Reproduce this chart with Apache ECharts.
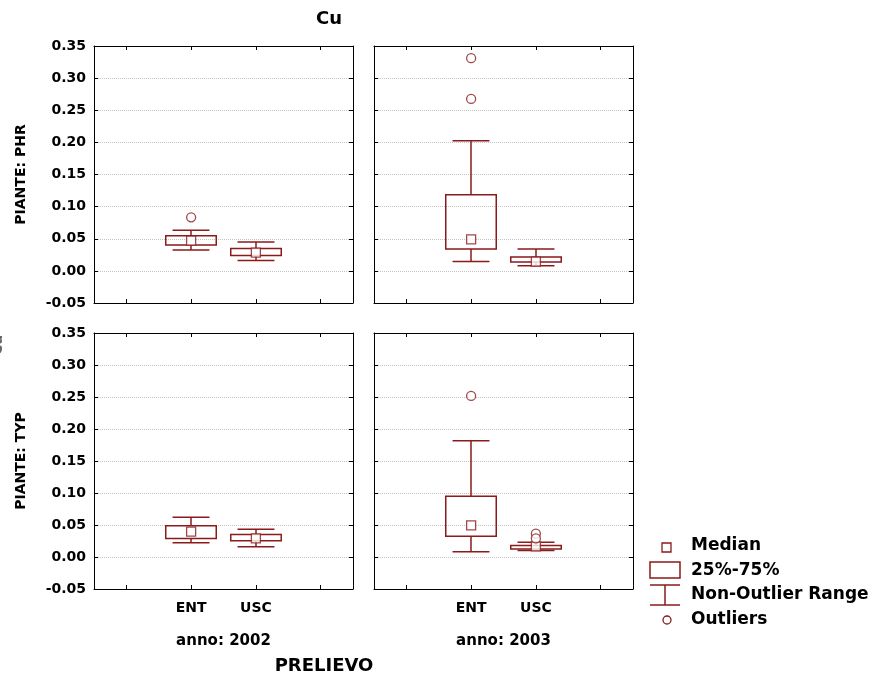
<!DOCTYPE html>
<html><head><meta charset="utf-8">
<script src="https://cdn.jsdelivr.net/npm/echarts@6/dist/echarts.min.js"></script>
<style>html,body{margin:0;padding:0;background:#fff}#c{width:882px;height:680px}</style>
</head><body><div id="c"></div>
<script>
// x categories (blank padding slots on either side, as in the original layout)
const categories = ['', 'ENT', 'USC', ' '];
const groupIndex = { ENT: 1, USC: 2 };
// box stats: [non-outlier min, Q1 (25%), median, Q3 (75%), non-outlier max]
const phr2002 = { ENT: [0.0326, 0.0404, 0.0470, 0.0548, 0.0632], USC: [0.0160, 0.0238, 0.0284, 0.0347, 0.0450] };
const phr2003 = { ENT: [0.0145, 0.0340, 0.0490, 0.1185, 0.2024], USC: [0.0078, 0.0140, 0.0145, 0.0217, 0.0340] };
const typ2002 = { ENT: [0.0224, 0.0290, 0.0397, 0.0490, 0.0620], USC: [0.0160, 0.0255, 0.0290, 0.0350, 0.0433] };
const typ2003 = { ENT: [0.0083, 0.0323, 0.0495, 0.0950, 0.1818], USC: [0.0103, 0.0125, 0.0166, 0.0180, 0.0229] };
// outliers: [group, value]
const phr2002Out = [['ENT', 0.0834]];
const phr2003Out = [['ENT', 0.3310], ['ENT', 0.2676]];
const typ2002Out = [];
const typ2003Out = [['ENT', 0.2517], ['USC', 0.0365], ['USC', 0.0290]];
const yMin = -0.05, yMax = 0.35, yStep = 0.05;
const yearLabels = ['anno: 2002', 'anno: 2003'];
const rowLabels = ['PIANTE: PHR', 'PIANTE: TYP'];

const RED = '#8b1a1a';
const FONT = '"DejaVu Sans", Verdana, sans-serif';

const panels = [
  { stats: phr2002, out: phr2002Out, row: 0, col: 0 },
  { stats: phr2003, out: phr2003Out, row: 0, col: 1 },
  { stats: typ2002, out: typ2002Out, row: 1, col: 0 },
  { stats: typ2003, out: typ2003Out, row: 1, col: 1 }
];
const gridPos = {
  left: [94, 374], top: [46, 333], width: 259, height: [257, 256]
};

const grids = [], xAxes = [], yAxes = [], series = [];
panels.forEach((p, i) => {
  grids.push({ left: gridPos.left[p.col], top: gridPos.top[p.row], width: gridPos.width, height: gridPos.height[p.row], containLabel: false });
  const isBottom = p.row === 1, isLeft = p.col === 0;
  const axLine = { show: true, onZero: false, lineStyle: { color: '#000', width: 1 } };
  const tick = { show: true, inside: true, length: 4, alignWithLabel: true, interval: 0, lineStyle: { color: '#000' } };
  xAxes.push({
    type: 'category', gridIndex: i, position: 'bottom', data: categories, boundaryGap: true,
    axisLine: axLine, axisTick: tick,
    axisLabel: { show: isBottom, interval: 0, color: '#000', fontFamily: FONT, fontWeight: 'bold', fontSize: 14, margin: 12 },
    name: isBottom ? yearLabels[p.col] : '', nameLocation: 'middle', nameGap: 45,
    nameTextStyle: { color: '#000', fontFamily: FONT, fontWeight: 'bold', fontSize: 15 },
    splitLine: { show: false }
  });
  xAxes.push({
    type: 'category', gridIndex: i, position: 'top', data: categories, boundaryGap: true,
    axisLine: axLine, axisTick: tick, axisLabel: { show: false }, splitLine: { show: false }
  });
  const ytick = { show: true, inside: true, length: 4, lineStyle: { color: '#000' } };
  yAxes.push({
    type: 'value', gridIndex: i, position: 'left', min: yMin, max: yMax, interval: yStep,
    axisLine: axLine, axisTick: ytick,
    axisLabel: { show: isLeft, formatter: v => v.toFixed(2), color: '#000', fontFamily: FONT, fontWeight: 'bold', fontSize: 14, margin: 8 },
    splitLine: { show: true, lineStyle: { type: 'dotted', color: '#c4c4c4', width: 1 } },
    name: isLeft ? rowLabels[p.row] : '', nameLocation: 'middle', nameGap: 66, nameRotate: 90,
    nameTextStyle: { color: '#000', fontFamily: FONT, fontWeight: 'bold', fontSize: 14 }
  });
  yAxes.push({
    type: 'value', gridIndex: i, position: 'right', min: yMin, max: yMax, interval: yStep,
    axisLine: axLine, axisTick: ytick, axisLabel: { show: false }, splitLine: { show: false }
  });
  const boxData = Object.keys(p.stats).map(g => [groupIndex[g]].concat(p.stats[g]));
  series.push({
    type: 'custom', xAxisIndex: 2 * i, yAxisIndex: 2 * i, z: 3,
    encode: { x: 0, y: [1, 2, 3, 4, 5] },
    data: boxData,
    renderItem: function (params, api) {
      const x = api.value(0);
      const lo = api.coord([x, api.value(1)]);
      const q1 = api.coord([x, api.value(2)]);
      const q3 = api.coord([x, api.value(4)]);
      const hi = api.coord([x, api.value(5)]);
      const bw = api.size([1, 0])[0];
      const boxW = bw * 0.78, capW = bw * 0.57;
      const cx = Math.round(lo[0]);
      const st = { stroke: RED, lineWidth: 1.5, fill: null };
      return {
        type: 'group', children: [
          { type: 'line', shape: { x1: cx, y1: hi[1], x2: cx, y2: q3[1] }, style: st },
          { type: 'line', shape: { x1: cx, y1: q1[1], x2: cx, y2: lo[1] }, style: st },
          { type: 'line', shape: { x1: cx - capW / 2, y1: hi[1], x2: cx + capW / 2, y2: hi[1] }, style: st },
          { type: 'line', shape: { x1: cx - capW / 2, y1: lo[1], x2: cx + capW / 2, y2: lo[1] }, style: st },
          { type: 'rect', shape: { x: cx - boxW / 2, y: q3[1], width: boxW, height: q1[1] - q3[1] }, style: { stroke: RED, lineWidth: 1.5, fill: 'rgba(255,255,255,0)' } }
        ]
      };
    }
  });
  series.push({
    type: 'scatter', xAxisIndex: 2 * i, yAxisIndex: 2 * i, z: 4,
    symbol: 'rect', symbolSize: 9,
    itemStyle: { color: '#fff', borderColor: RED, borderWidth: 1.3 },
    data: Object.keys(p.stats).map(g => [groupIndex[g], p.stats[g][2]])
  });
  series.push({
    type: 'scatter', xAxisIndex: 2 * i, yAxisIndex: 2 * i, z: 4,
    symbol: 'circle', symbolSize: 9,
    itemStyle: { color: '#fff', borderColor: RED, borderWidth: 1.3 },
    data: p.out.map(o => [groupIndex[o[0]], o[1]])
  });
});

const txt = (x, y, text, size, extra) => Object.assign({
  type: 'text', x: x, y: y,
  style: { text: text, fill: '#000', font: 'bold ' + size + 'px ' + FONT, textAlign: 'left', textVerticalAlign: 'middle' }
}, extra || {});
const lst = { stroke: RED, lineWidth: 1.5, fill: null };
const graphic = [
  { type: 'text', left: 316, top: 10, style: { text: 'Cu', fill: '#000', font: 'bold 18px ' + FONT } },
  { type: 'text', x: 324, y: 666, style: { text: 'PRELIEVO', fill: '#000', font: 'bold 18px ' + FONT, textAlign: 'center', textVerticalAlign: 'middle' } },
  { type: 'text', x: -2, y: 345, rotation: Math.PI / 2, style: { text: 'Cu', fill: '#666', font: 'bold 14px ' + FONT, textAlign: 'center', textVerticalAlign: 'middle' } },
  // legend
  { type: 'rect', shape: { x: 662, y: 543, width: 9, height: 9 }, style: { stroke: RED, lineWidth: 1.3, fill: '#fff' } },
  { type: 'rect', shape: { x: 650, y: 562, width: 30, height: 16 }, style: { stroke: RED, lineWidth: 1.5, fill: '#fff' } },
  { type: 'line', shape: { x1: 650, y1: 585, x2: 680, y2: 585 }, style: lst },
  { type: 'line', shape: { x1: 650, y1: 605, x2: 680, y2: 605 }, style: lst },
  { type: 'line', shape: { x1: 665, y1: 585, x2: 665, y2: 605 }, style: lst },
  { type: 'circle', shape: { cx: 667, cy: 620, r: 4 }, style: { stroke: RED, lineWidth: 1.3, fill: '#fff' } },
  txt(691, 546, 'Median', 17),
  txt(691, 571, '25%-75%', 17),
  txt(691, 595, 'Non-Outlier Range', 17),
  txt(691, 620, 'Outliers', 17)
];

const chart = echarts.init(document.getElementById('c'), null, { renderer: 'canvas' });
chart.setOption({
  animation: false,
  backgroundColor: '#fff',
  grid: grids, xAxis: xAxes, yAxis: yAxes, series: series, graphic: graphic
});
</script>
</body></html>
